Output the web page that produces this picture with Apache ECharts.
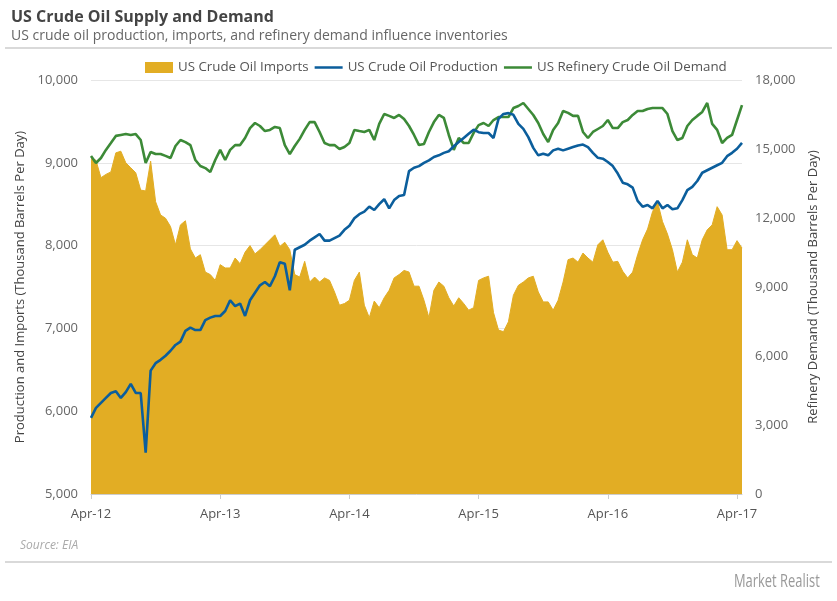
<!DOCTYPE html>
<html>
<head>
<meta charset="utf-8">
<script src="https://cdn.jsdelivr.net/npm/echarts@6/dist/echarts.min.js"></script>
<style>
  html, body { margin: 0; padding: 0; background: #fff; }
  #main { width: 837px; height: 601px; }
</style>
</head>
<body>
<div id="main"></div>
<script>
// biweekly readings, first point 13-Apr-2012
var startDate = '2012-04-13';
var stepDays = 14;

var imports = [
    9060, 9030, 8820, 8860, 8890, 9120, 9140, 9000, 8940, 8880,
    8670, 8660, 9020, 8530, 8370, 8330, 8230, 8010, 8250, 8300,
    7960, 7850, 7890, 7680, 7650, 7580, 7770, 7730, 7730, 7850,
    7780, 7920, 8000, 7900, 7950, 8010, 8070, 8130, 7990, 8040,
    7950, 7650, 7620, 7810, 7560, 7620, 7560, 7610, 7580, 7440,
    7280, 7300, 7340, 7580, 7680, 7280, 7130, 7330, 7250, 7370,
    7460, 7610, 7650, 7700, 7680, 7510, 7510, 7340, 7130, 7460,
    7560, 7510, 7370, 7270, 7370, 7300, 7220, 7250, 7580, 7610,
    7630, 7190, 6980, 6960, 7080, 7400, 7520, 7560, 7610, 7630,
    7440, 7320, 7320, 7220, 7340, 7560, 7830, 7850, 7800, 7910,
    7850, 7800, 8010, 8070, 7920, 7800, 7810, 7690, 7610, 7680,
    7890, 8070, 8200, 8410, 8530, 8290, 8140, 7950, 7680, 7800,
    8070, 7890, 7850, 8070, 8190, 8250, 8470, 8370, 7950, 7950,
    8060, 7970
];

var production = [
    5920, 6040, 6100, 6160, 6220, 6240, 6160, 6230, 6330, 6220,
    6220, 5500, 6490, 6580, 6620, 6670, 6730, 6800, 6840, 6970,
    7010, 6980, 6980, 7100, 7130, 7150, 7150, 7210, 7340, 7270,
    7300, 7150, 7340, 7430, 7520, 7560, 7510, 7630, 7800, 7780,
    7460, 7950, 7980, 8010, 8060, 8100, 8140, 8060, 8060, 8090,
    8120, 8190, 8240, 8330, 8380, 8410, 8470, 8430, 8500, 8560,
    8450, 8550, 8600, 8610, 8900, 8940, 8960, 9000, 9030, 9070,
    9090, 9120, 9140, 9200, 9250, 9300, 9350, 9400, 9370, 9360,
    9360, 9300, 9530, 9590, 9600, 9580, 9470, 9410, 9310, 9180,
    9090, 9110, 9090, 9150, 9170, 9150, 9170, 9190, 9210, 9220,
    9190, 9120, 9060, 9050, 9010, 8960, 8870, 8760, 8740, 8700,
    8540, 8470, 8490, 8450, 8540, 8450, 8490, 8440, 8450, 8550,
    8670, 8710, 8780, 8880, 8910, 8940, 8970, 9000, 9080, 9120,
    9170, 9240
];

var demand = [
    14700, 14390, 14610, 14960, 15260, 15570, 15610, 15650, 15610, 15650,
    15390, 14390, 14870, 14780, 14780, 14700, 14610, 15130, 15390, 15300,
    15170, 14520, 14260, 14170, 14000, 14520, 14960, 14520, 14960, 15170,
    15170, 15480, 15910, 16130, 16000, 15780, 15830, 15960, 15910, 15170,
    14780, 15130, 15440, 15830, 16170, 16170, 15740, 15260, 15170, 15170,
    15000, 15090, 15260, 15830, 15780, 15740, 15830, 15390, 16090, 16520,
    16440, 16350, 16480, 16300, 16000, 15610, 15170, 15220, 15740, 16170,
    16480, 16350, 15610, 14960, 15480, 15260, 15260, 15700, 16040, 16130,
    16000, 16260, 16390, 16390, 16390, 16780, 16870, 17000, 16740, 16480,
    16130, 15650, 15300, 15830, 16130, 16650, 16570, 16440, 16440, 15740,
    15480, 15740, 15870, 16000, 16260, 15910, 15910, 16170, 16260, 16480,
    16650, 16650, 16740, 16780, 16780, 16780, 16520, 15780, 15390, 15480,
    16000, 16260, 16440, 16610, 17000, 16090, 15830, 15260, 15480, 15610,
    16260, 16910
];

var seriesNames = ['US Crude Oil Imports', 'US Crude Oil Production', 'US Refinery Crude Oil Demand'];
var monthNames = ['Jan', 'Feb', 'Mar', 'Apr', 'May', 'Jun', 'Jul', 'Aug', 'Sep', 'Oct', 'Nov', 'Dec'];

// category dates
var dates = [];
var d0 = new Date(startDate + 'T00:00:00Z');
for (var i = 0; i < imports.length; i++) {
    var d = new Date(d0.getTime() + i * stepDays * 86400000);
    dates.push(d.toISOString().slice(0, 10));
}

function isAprTick(index, value) {
    var m = +value.slice(5, 7), day = +value.slice(8, 10);
    return m === 4 && day <= 14;
}

function fmtNum(v) {
    return String(v).replace(/\B(?=(\d{3})+(?!\d))/g, ',');
}

// thin bar legend icon for the lines (tiny dots keep the box 28x11)
var lineIcon = 'path://M0,0L0.01,0L0.01,0.01Z M0,4.2L28,4.2L28,6.8L0,6.8Z M27.99,11L28,11L28,10.99Z';

var font = '"Open Sans", "Noto Sans", sans-serif';
var chart = echarts.init(document.getElementById('main'));

var option = {
    backgroundColor: '#ffffff',
    animation: false,
    textStyle: { fontFamily: font },
    title: {
        text: 'US Crude Oil Supply and Demand',
        subtext: 'US crude oil production, imports, and refinery demand influence inventories',
        left: 6,
        top: 4,
        itemGap: 4,
        textStyle: { fontFamily: font, fontSize: 16, fontWeight: 'bold', color: '#444' },
        subtextStyle: { fontFamily: font, fontSize: 14, color: '#666' }
    },
    legend: {
        top: 56,
        left: 140,
        itemGap: 6,
        itemWidth: 28,
        itemHeight: 11,
        textStyle: { fontFamily: font, fontSize: 13.3, color: '#555' },
        data: [
            { name: seriesNames[0], icon: 'rect' },
            { name: seriesNames[1], icon: lineIcon },
            { name: seriesNames[2], icon: lineIcon }
        ]
    },
    grid: { left: 91, right: 95, top: 80, bottom: 107 },
    xAxis: {
        type: 'category',
        data: dates,
        boundaryGap: false,
        axisLine: { lineStyle: { color: '#cccccc' } },
        axisTick: { interval: isAprTick, length: 5, lineStyle: { color: '#cccccc' } },
        axisLabel: {
            interval: isAprTick,
            margin: 14,
            color: '#555',
            fontSize: 13,
            fontFamily: '"Liberation Sans Narrow", "Open Sans", sans-serif',
            formatter: function (v) {
                return monthNames[+v.slice(5, 7) - 1] + '-' + v.slice(2, 4);
            }
        },
        splitLine: { show: false }
    },
    yAxis: [
        {
            type: 'value',
            min: 5000,
            max: 10000,
            interval: 1000,
            name: 'Production and Imports (Thousand Barrels Per Day)',
            nameLocation: 'middle',
            nameGap: 64,
            nameTextStyle: { fontFamily: font, fontSize: 13, color: '#444' },
            axisLine: { show: false },
            axisTick: { show: false },
            axisLabel: { color: '#666', fontSize: 13, margin: 13, formatter: fmtNum },
            splitLine: { lineStyle: { color: '#e6e6e6' } }
        },
        {
            type: 'value',
            min: 0,
            max: 18000,
            interval: 3000,
            name: 'Refinery Demand (Thousand Barrels Per Day)',
            nameLocation: 'middle',
            nameGap: 62,
            nameTextStyle: { fontFamily: font, fontSize: 13, color: '#444' },
            axisLine: { show: false },
            axisTick: { show: false },
            axisLabel: { color: '#666', fontSize: 13, margin: 13, formatter: fmtNum },
            splitLine: { show: false }
        }
    ],
    series: [
        {
            name: seriesNames[0],
            type: 'line',
            yAxisIndex: 0,
            data: imports,
            symbol: 'none',
            color: '#E2AD24',
            lineStyle: { width: 1, color: '#E2AD24' },
            areaStyle: { color: '#E2AD24', opacity: 1 },
            z: 1
        },
        {
            name: seriesNames[1],
            type: 'line',
            yAxisIndex: 0,
            data: production,
            symbol: 'none',
            color: '#0B5E9C',
            lineStyle: { width: 2.6, color: '#0B5E9C' },
            z: 3
        },
        {
            name: seriesNames[2],
            type: 'line',
            yAxisIndex: 1,
            data: demand,
            symbol: 'none',
            color: '#3C8A37',
            lineStyle: { width: 2.6, color: '#3C8A37' },
            z: 2
        }
    ],
    graphic: [
        { type: 'line', shape: { x1: 5, y1: 48, x2: 832, y2: 48 }, style: { stroke: '#cccccc', lineWidth: 1.5 } },
        { type: 'text', left: 20, top: 540, style: { text: 'Source: EIA', font: 'italic 12px "Liberation Sans Narrow", "Open Sans", sans-serif', fill: '#aaaaaa' } },
        { type: 'line', shape: { x1: 5, y1: 562, x2: 832, y2: 562 }, style: { stroke: '#cccccc', lineWidth: 1.5 } },
        { type: 'text', x: 734, y: 572, scaleX: 0.68, style: { text: 'Market Realist', font: '19px "Open Sans", sans-serif', fill: '#999999' } }
    ]
};

chart.setOption(option);
</script>
</body>
</html>
